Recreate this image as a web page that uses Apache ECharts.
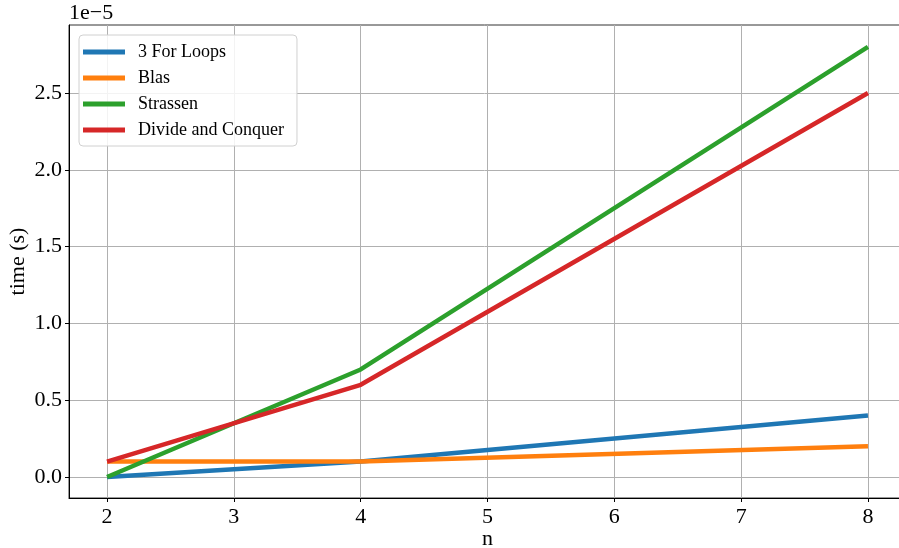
<!DOCTYPE html>
<html>
<head>
<meta charset="utf-8">
<script src="https://cdn.jsdelivr.net/npm/echarts@6/dist/echarts.min.js"></script>
<style>html,body{margin:0;padding:0;background:#fff;}#c{width:899px;height:548px;}</style>
</head>
<body>
<div id="c"></div>
<script>
const nValues = [2, 4, 8];
const forLoops = [0.0, 0.1, 0.4];
const blas = [0.1, 0.1, 0.2];
const strassen = [0.0, 0.7, 2.8];
const divideConquer = [0.1, 0.6, 2.5];
const xTicks = [2, 3, 4, 5, 6, 7, 8];
const yTicks = [0, 0.5, 1.0, 1.5, 2.0, 2.5];
const seriesNames = ['3 For Loops', 'Blas', 'Strassen', 'Divide and Conquer'];
const colors = ['#1f77b4', '#ff7f0e', '#2ca02c', '#d62728'];

const font = 'Liberation Serif';
const chart = echarts.init(document.getElementById('c'), null, {renderer: 'canvas'});
const allData = [forLoops, blas, strassen, divideConquer];
const series = allData.map((vals, i) => ({
  name: seriesNames[i],
  type: 'line',
  data: vals.map((v, j) => [nValues[j], v]),
  showSymbol: false,
  symbol: 'none',
  lineStyle: {width: 4.5, color: colors[i], cap: 'butt'},
  itemStyle: {color: colors[i]},
  z: 3 + i,
  animation: false
}));

chart.setOption({
  animation: false,
  grid: {left: 69, top: 25, width: 837, height: 473, show: true, borderColor: '#333', borderWidth: 1, containLabel: false, outerBoundsMode: 'none'},
  legend: {
    left: 79, top: 35, orient: 'vertical',
    data: seriesNames,
    icon: 'rect', itemWidth: 42, itemHeight: 5, itemGap: 8,
    backgroundColor: 'rgba(255,255,255,0.85)', borderColor: '#d0d0d0', borderWidth: 1, borderRadius: 4,
    padding: [8, 13, 7, 4],
    textStyle: {fontFamily: font, fontSize: 18, color: '#000', lineHeight: 18, padding: [0, 0, 0, 8]}
  },
  graphic: [{type: 'text', left: 69, top: 2, style: {text: '1e\u22125', font: '22px "Liberation Serif"', fill: '#000'}}],
  xAxis: {
    type: 'value', min: 1.7, max: 8.3,
    name: 'n', nameLocation: 'middle', nameGap: 30, nameMoveOverlap: false,
    nameTextStyle: {fontFamily: font, fontSize: 22, color: '#000'},
    axisLine: {show: true, onZero: false, lineStyle: {color: '#000', width: 1}},
    axisTick: {show: true, inside: false, length: 4, customValues: xTicks, lineStyle: {color: '#000'}},
    axisLabel: {customValues: xTicks, margin: 8, fontFamily: font, fontSize: 22, color: '#000'},
    splitLine: {show: true, lineStyle: {color: '#b0b0b0', width: 1}}
  },
  yAxis: {
    type: 'value', min: -0.137, max: 2.943,
    name: 'time (s)', nameLocation: 'middle', nameGap: 40, nameMoveOverlap: false,
    nameTextStyle: {fontFamily: font, fontSize: 22, color: '#000'},
    axisLine: {show: true, onZero: false, lineStyle: {color: '#000', width: 1}},
    axisTick: {show: true, inside: false, length: 4, customValues: yTicks, lineStyle: {color: '#000'}},
    axisLabel: {customValues: yTicks, margin: 7, fontFamily: font, fontSize: 22, color: '#000', formatter: v => v.toFixed(1)},
    splitLine: {show: true, lineStyle: {color: '#b0b0b0', width: 1}}
  },
  series: series
});
</script>
</body>
</html>
